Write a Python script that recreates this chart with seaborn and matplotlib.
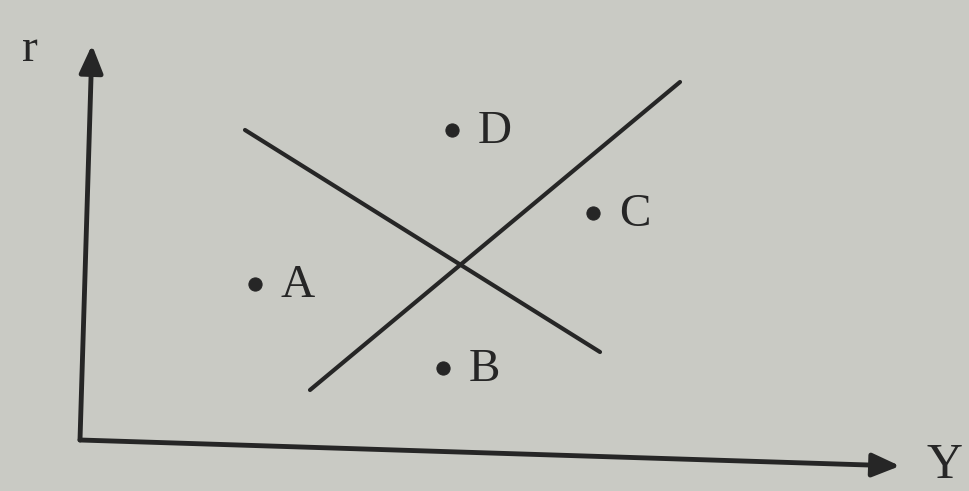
import numpy as np
import pandas as pd
import seaborn as sns
import matplotlib.pyplot as plt

# points (pixel-like units, y grows downward)
point_names = ['A', 'B', 'C', 'D']
point_x = [255, 443, 593, 452]
point_y = [284, 368, 213, 130]

# the two crossing curves (start / end)
is_x = [245, 600]
is_y = [130, 352]
lm_x = [310, 680]
lm_y = [390, 82]

# axes of the diagram
origin = (80, 440)
r_top = (92, 45)
y_end = (900, 466)

bg = '#c9cac4'
ink = '#262626'

sns.set_theme(style='white')
plt.rcParams['font.family'] = ['Liberation Serif', 'DejaVu Serif']

fig = plt.figure(figsize=(9.7, 4.91), dpi=100, facecolor=bg)
ax = fig.add_axes([0, 0, 1, 1])
ax.set_facecolor(bg)

lines = pd.DataFrame({
    'x': is_x + lm_x,
    'y': is_y + lm_y,
    'curve': ['IS', 'IS', 'LM', 'LM'],
})
sns.lineplot(data=lines, x='x', y='y', units='curve', estimator=None,
             color=ink, linewidth=3, sort=False, ax=ax)

pts = pd.DataFrame({'x': point_x, 'y': point_y, 'name': point_names})
sns.scatterplot(data=pts, x='x', y='y', color=ink, s=90, edgecolor=ink, ax=ax)
for _, row in pts.iterrows():
    ax.text(row['x'] + 26, row['y'] + 2, row['name'], fontsize=34,
            color=ink, va='center', ha='left')

# axis arrows
ax.annotate('', xy=r_top, xytext=origin,
            arrowprops=dict(arrowstyle='-|>,head_length=1.4,head_width=0.6',
                            color=ink, lw=3.5, shrinkA=0, shrinkB=0))
ax.annotate('', xy=y_end, xytext=origin,
            arrowprops=dict(arrowstyle='-|>,head_length=1.4,head_width=0.6',
                            color=ink, lw=3.5, shrinkA=0, shrinkB=0))
ax.text(30, 50, 'r', fontsize=34, color=ink, ha='center', va='center')
ax.text(945, 466, 'Y', fontsize=36, color=ink, ha='center', va='center')

ax.set_xlim(0, 970)
ax.set_ylim(491, 0)
ax.axis('off')

fig.savefig('out.png', dpi=100, facecolor=bg)
